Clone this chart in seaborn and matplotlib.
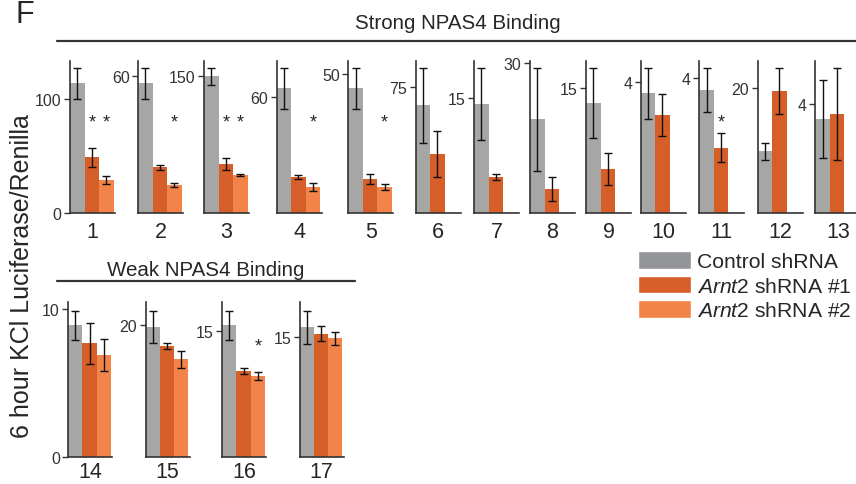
import pandas as pd
import matplotlib.pyplot as plt
import seaborn as sns
from matplotlib.lines import Line2D
from matplotlib.patches import Patch

# fragment numbers (1-13 strong NPAS4 binding, 14-17 weak)
fragments = list(range(1, 18))

conds = ['Control shRNA', 'Arnt2 shRNA #1', 'Arnt2 shRNA #2']

ctrl_mean = [114, 56.8, 150, 64.5, 44.7, 64.4, 14.3, 18.8, 13.2, 3.67, 3.65, 9.9, 3.46,
             8.94, 19.7, 15.7, 16.2]
ctrl_sem = [14, 7, 9.5, 10.7, 7.5, 22.4, 4.7, 10.3, 4.2, 0.78, 0.66, 1.37, 1.43,
            0.98, 2.45, 1.75, 2.05]
sh1_mean = [49, 20, 54, 18.6, 12.2, 35.2, 4.7, 4.8, 5.3, 3.0, 1.93, 19.6, 3.64,
            7.7, 16.8, 10.25, 15.4]
sh1_sem = [8.5, 1.0, 6.5, 1.0, 1.8, 13.7, 0.45, 2.4, 1.9, 0.63, 0.43, 3.7, 1.7,
           1.4, 0.45, 0.35, 0.95]
sh2_mean = [29, 12.2, 41.6, 13.5, 9.4, None, None, None, None, None, None, None, None,
            6.9, 14.8, 9.65, 14.8]
sh2_sem = [3.7, 0.9, 1.3, 2.2, 1.0, None, None, None, None, None, None, None, None,
           1.07, 1.3, 0.45, 0.78]

y_ticks = [[0, 100], [60], [150], [60], [50], [75], [15], [30], [15], [4], [4], [20], [4],
           [0, 10], [20], [15], [15]]

# significant conditions (index into conds) per fragment
stars = {1: [1, 2], 2: [2], 3: [1, 2], 4: [2], 5: [2], 11: [1], 16: [2]}

palette = {'Control shRNA': '#a6a6a5', 'Arnt2 shRNA #1': '#d65e28', 'Arnt2 shRNA #2': '#f2844a'}
legend_gray = '#939598'

sns.set_style('ticks')
plt.rcParams['font.family'] = ['Liberation Sans', 'DejaVu Sans']
plt.rcParams['mathtext.fontset'] = 'custom'
plt.rcParams['mathtext.rm'] = 'Liberation Sans'
plt.rcParams['mathtext.it'] = 'Liberation Sans:italic'

W, H = 856, 485
fig = plt.figure(figsize=(W / 100, H / 100), dpi=100)

# panel layout in pixels
top_left = [70, 138, 204, 276.7, 348.3, 415.7, 474, 530, 586, 640.7, 699.3, 757.7, 815.3]
bottom_left = [68.3, 145.7, 222.3, 299.7]


def px_rect(x0, w, y_top, y_bot):
    return [x0 / W, 1 - y_bot / H, w / W, (y_bot - y_top) / H]


def draw_panel(ax, i, top_pad, star_y, label_pad):
    frag = fragments[i]
    rows = [(conds[0], ctrl_mean[i], ctrl_sem[i]), (conds[1], sh1_mean[i], sh1_sem[i])]
    if sh2_mean[i] is not None:
        rows.append((conds[2], sh2_mean[i], sh2_sem[i]))
    df = pd.DataFrame(rows, columns=['cond', 'mean', 'sem'])

    sns.barplot(data=df, x='cond', y='mean', hue='cond', order=conds, hue_order=conds,
                palette=palette, width=1, saturation=1, legend=False, ax=ax, linewidth=0)
    xs = [conds.index(c) for c in df['cond']]
    ax.errorbar(xs, df['mean'], yerr=df['sem'], fmt='none', ecolor='#111111',
                elinewidth=1, capsize=3, capthick=1)

    ax.set_xlim(-0.5, 2.6)
    ax.set_ylim(0, (df['mean'] + df['sem']).max() * top_pad)
    ax.set_yticks(y_ticks[i])
    ax.set_xticks([])
    ax.set_ylabel('')
    ax.set_xlabel(str(frag), fontsize=15.5, labelpad=label_pad)
    ax.tick_params(axis='y', length=4, width=1, pad=2, labelsize=11.5,
                   labelcolor='#333333', color='#333333')
    for s in ['top', 'right']:
        ax.spines[s].set_visible(False)
    for s in ['left', 'bottom']:
        ax.spines[s].set_color('#333333')
        ax.spines[s].set_linewidth(1.2)

    for k in stars.get(frag, []):
        ax.text(k, star_y, '*', transform=ax.get_xaxis_transform(), ha='center',
                va='center', fontsize=13)


for j, x0 in enumerate(top_left):
    ax = fig.add_axes(px_rect(x0, 45, 61.7, 214))
    draw_panel(ax, j, 1.047, 0.60, 6)

for j, x0 in enumerate(bottom_left):
    ax = fig.add_axes(px_rect(x0, 44, 303.3, 458.3))
    draw_panel(ax, 13 + j, 1.057, 0.72, 3)

# group headers
fig.text(458 / W, 1 - 29 / H, 'Strong NPAS4 Binding', ha='center', va='baseline', fontsize=14.8)
fig.add_artist(Line2D([57 / W, 1.0], [1 - 41.7 / H] * 2, color='#333333', lw=1.6))
fig.text(206 / W, 1 - 276 / H, 'Weak NPAS4 Binding', ha='center', va='baseline', fontsize=14.8)
fig.add_artist(Line2D([57 / W, 355 / W], [1 - 282 / H] * 2, color='#333333', lw=1.6))

fig.text(16 / W, 1 - 23 / H, 'F', ha='left', va='baseline', fontsize=22)
fig.text(22 / W, 1 - 276 / H, '6 hour KCl Luciferase/Renilla', rotation=90,
         ha='center', va='center', fontsize=18)

handles = [Patch(facecolor=legend_gray), Patch(facecolor=palette[conds[1]]),
           Patch(facecolor=palette[conds[2]])]
labels = ['Control shRNA', r'$\mathit{Arnt2}$ shRNA #1', r'$\mathit{Arnt2}$ shRNA #2']
fig.legend(handles, labels, loc='upper left', bbox_to_anchor=(638 / W, 1 - 252 / H),
           frameon=False, fontsize=15.2, handlelength=2.5, handleheight=0.9,
           handletextpad=0.3, labelspacing=0.22, borderpad=0, borderaxespad=0)

fig.savefig('out.png', dpi=100)
